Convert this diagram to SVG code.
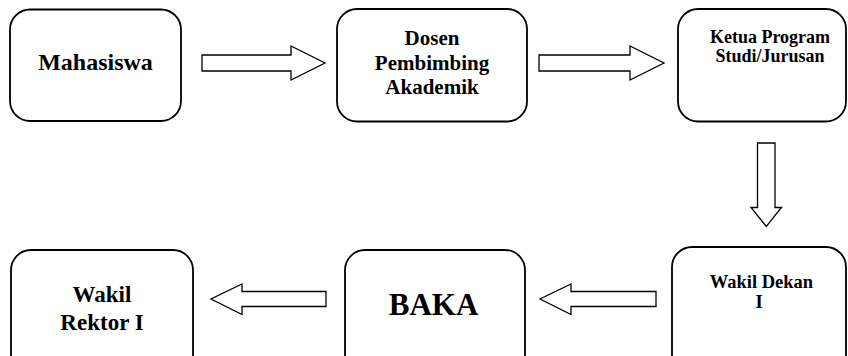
<svg xmlns="http://www.w3.org/2000/svg" width="848" height="356" viewBox="0 0 848 356">
<style>
.box{fill:#fff;stroke:#000;stroke-width:1.8}
.arr{fill:#fff;stroke:#000;stroke-width:1.3;stroke-linejoin:miter}
text{font-family:"Liberation Serif","Times New Roman",serif;font-weight:bold;fill:#000;text-anchor:middle}
</style>
<rect width="848" height="356" fill="#fff"/>
<g id="connectors">
<polygon class="arr" points="202,55 291,55 291,46 325,63 291,80 291,71 202,71"/>
<polygon class="arr" points="539,55 630,55 630,46 664,63 630,80 630,71 539,71"/>
<polygon class="arr" points="757.5,143 775,143 775,207.5 781.5,207.5 766.3,226.5 751,207.5 757.5,207.5"/>
<polygon class="arr" points="656,291.5 571,291.5 571,284 540,299 571,314.5 571,306.5 656,306.5"/>
<polygon class="arr" points="326,291.5 242,291.5 242,284 211,299 242,314.5 242,306.5 326,306.5"/>
</g>
<g id="mahasiswa">
<rect class="box" x="10" y="9.5" width="171" height="111.5" rx="20"/>
<text x="95.5" y="70" font-size="24">Mahasiswa</text>
</g>
<g id="dosen">
<rect class="box" x="337" y="9" width="190" height="112.5" rx="20"/>
<text x="432" y="45" font-size="21">Dosen</text>
<text x="432" y="69.5" font-size="21">Pembimbing</text>
<text x="432" y="94" font-size="21">Akademik</text>
</g>
<g id="ketua">
<rect class="box" x="678" y="9" width="168" height="112.5" rx="20"/>
<text x="770" y="43" font-size="18">Ketua Program</text>
<text x="770" y="62" font-size="18">Studi/Jurusan</text>
</g>
<g id="wakil-dekan">
<rect class="box" x="672" y="247" width="174" height="130" rx="20"/>
<text x="761.5" y="287.5" font-size="18.5">Wakil Dekan</text>
<text x="759" y="307.5" font-size="18.5">I</text>
</g>
<g id="baka">
<rect class="box" x="345" y="250" width="180" height="130" rx="20"/>
<text x="433.5" y="315" font-size="31">BAKA</text>
</g>
<g id="wakil-rektor">
<rect class="box" x="11" y="250" width="182" height="130" rx="20"/>
<text x="102" y="301.5" font-size="23">Wakil</text>
<text x="102" y="330" font-size="23">Rektor I</text>
</g>
</svg>
